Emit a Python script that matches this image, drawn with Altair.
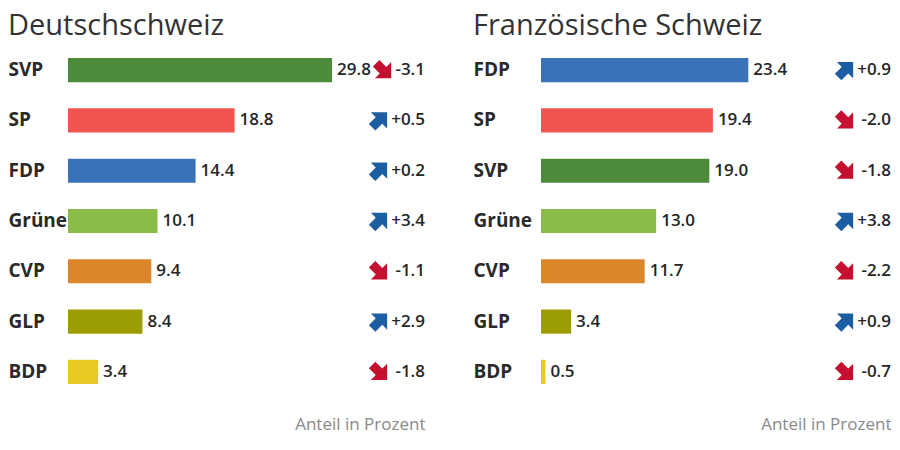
import altair as alt
import pandas as pd

parties_de = ["SVP", "SP", "FDP", "Grüne", "CVP", "GLP", "BDP"]
share_de = [29.8, 18.8, 14.4, 10.1, 9.4, 8.4, 3.4]
change_de = [-3.1, 0.5, 0.2, 3.4, -1.1, 2.9, -1.8]

parties_fr = ["FDP", "SP", "SVP", "Grüne", "CVP", "GLP", "BDP"]
share_fr = [23.4, 19.4, 19.0, 13.0, 11.7, 3.4, 0.5]
change_fr = [0.9, -2.0, -1.8, 3.8, -2.2, 0.9, -0.7]

party_colors = {
    "SVP": "#4b8b3b",
    "SP": "#f15550",
    "FDP": "#3a72b8",
    "Grüne": "#8bbc47",
    "CVP": "#dc862b",
    "GLP": "#9c9c03",
    "BDP": "#e8c823",
}
UP_COLOR = "#1d5ea3"
DOWN_COLOR = "#c5102f"

ARROW = "M0,-1 L1,0 L0.4,0 L0.4,0.85 L-0.4,0.85 L-0.4,0 L-1,0 Z"
FONT = "Open Sans"
PX_PER_UNIT = 8.86


def make_df(parties, share, change, arrow_x):
    df = pd.DataFrame({"party": parties, "share": share, "change": change})
    df["share_label"] = df["share"].map(lambda v: f"{v:.1f}")
    df["change_label"] = df["change"].map(lambda v: f"+{v:.1f}" if v > 0 else f"-{abs(v):.1f}")
    df["ang"] = df["change"].map(lambda v: 45 if v > 0 else 135)
    df["acol"] = df["change"].map(lambda v: UP_COLOR if v > 0 else DOWN_COLOR)
    df["bcol"] = df["party"].map(party_colors)
    # keep the arrow clear of a long value label
    df["ax"] = df["share"].map(lambda v: max(arrow_x, v * PX_PER_UNIT + 5 + 34 + 12))
    return df


def panel(title, parties, share, change, width, label_pad, arrow_x):
    df = make_df(parties, share, change, arrow_x)
    xmax = width / PX_PER_UNIT
    base = alt.Chart(df)
    y = alt.Y(
        "party:N",
        sort=parties,
        scale=alt.Scale(paddingInner=0.52, paddingOuter=0.26),
        axis=alt.Axis(
            title=None,
            domain=False,
            ticks=False,
            labelAlign="left",
            labelBaseline="middle",
            labelPadding=label_pad,
            labelFont=FONT,
            labelFontSize=19,
            labelFontWeight="bold",
            labelColor="#2a2a2a",
        ),
    )
    x = alt.X(
        "share:Q",
        scale=alt.Scale(domain=[0, xmax], nice=False, zero=True),
        axis=alt.Axis(
            title="Anteil in Prozent",
            labels=False,
            ticks=False,
            domain=False,
            grid=False,
            titleAnchor="end",
            titleAlign="right",
            titleFont=FONT,
            titleFontSize=17,
            titleFontWeight="normal",
            titleColor="#8a8a8a",
            titlePadding=19,
        ),
    )
    bars = base.mark_bar().encode(x=x, y=y, color=alt.Color("bcol:N", scale=None))
    vals = base.mark_text(align="left", baseline="middle", dx=5, font=FONT,
                          fontSize=17, fontWeight=600, color="#262626").encode(
        x="share:Q", y=alt.Y("party:N", sort=parties), text="share_label:N")
    arrows = base.mark_point(shape=ARROW, filled=True, size=530, opacity=1).encode(
        x=alt.X("ax:Q", scale=None),
        y=alt.Y("party:N", sort=parties),
        angle=alt.Angle("ang:Q", scale=None),
        color=alt.Color("acol:N", scale=None),
    )
    chg = base.mark_text(align="right", baseline="middle", font=FONT,
                         fontSize=17, fontWeight=600, color="#262626").encode(
        x=alt.value(width), y=alt.Y("party:N", sort=parties), text="change_label:N")
    return alt.layer(bars, vals, arrows, chg).properties(
        width=width,
        height=352,
        title=alt.TitleParams(title, anchor="start", frame="bounds", font=FONT,
                              fontSize=29, fontWeight="normal", color="#333333", offset=4),
    )


left = panel("Deutschschweiz", parties_de, share_de, change_de, 357, 60, 311)
right = panel("Französische Schweiz", parties_fr, share_fr, change_fr, 350, 68, 304)

chart = alt.hconcat(left, right, spacing=48).resolve_scale(
    x="independent", y="independent", color="independent"
).configure(padding={"top": 4, "left": 0, "right": 0, "bottom": 0}).configure_view(stroke=None)

chart.save("out.html", embed_options={"renderer": "svg", "actions": False})
